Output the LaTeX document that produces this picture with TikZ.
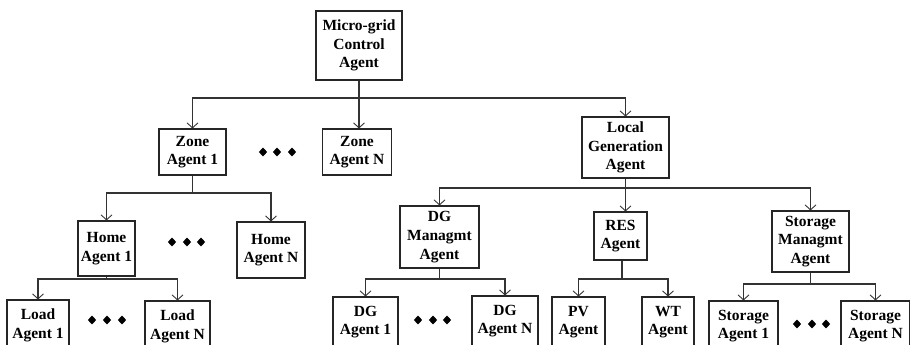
\documentclass[tikz,border=0pt]{standalone}
\usepackage{fontspec}
\setmainfont{Liberation Serif}
\usetikzlibrary{arrows.meta,shapes.geometric}
\tikzset{
  agent/.style={draw=black!85, line width=1.1pt, rectangle, inner sep=0pt, align=center,
    font=\fontsize{15.5}{18.7}\selectfont\bfseries},
  conn/.style={draw=black!80, line width=1.1pt},
  arr/.style={conn, -{Straight Barb[length=5pt,width=11pt,line width=0.9pt]}},
  dot/.style={diamond, fill=black, inner sep=0pt, minimum width=8.5pt, minimum height=9pt}
}
\begin{document}
\begin{tikzpicture}[x=1pt,y=-1pt]
\useasboundingbox (0,0) rectangle (910,345);
\clip (0,0) rectangle (910,345);
\fill[white] (0,0) rectangle (910,345);
% level 0
\node[agent, minimum width=86pt, minimum height=69pt] (top) at (359,45.5) {Micro-grid\\Control\\Agent};
% level 1
\node[agent, minimum width=67pt, minimum height=46pt] (zone1) at (192.5,152) {Zone\\Agent 1};
\node[agent, minimum width=69pt, minimum height=46pt] (zoneN) at (357,152) {Zone\\Agent N};
\node[agent, minimum width=87pt, minimum height=61pt] (lg) at (625.5,147.5) {Local\\Generation\\Agent};
% level 2
\node[agent, minimum width=57pt, minimum height=55pt] (home1) at (106.5,248.5) {Home\\Agent 1};
\node[agent, minimum width=68pt, minimum height=56pt] (homeN) at (271,250) {Home\\Agent N};
\node[agent, minimum width=79pt, minimum height=62pt] (dgm) at (439.5,237) {DG\\Managmt\\Agent};
\node[agent, minimum width=53pt, minimum height=48pt] (res) at (620.5,236) {RES\\Agent};
\node[agent, minimum width=77pt, minimum height=61pt] (sm) at (810.5,241.5) {Storage\\Managmt\\Agent};
% level 3
\node[agent, minimum width=62pt, minimum height=50pt] (load1) at (38,325) {Load\\Agent 1};
\node[agent, minimum width=65pt, minimum height=50pt] (loadN) at (177.5,326) {Load\\Agent N};
\node[agent, minimum width=65pt, minimum height=50pt] (dg1) at (365.5,322) {DG\\Agent 1};
\node[agent, minimum width=66pt, minimum height=50pt] (dgN) at (505,321) {DG\\Agent N};
\node[agent, minimum width=53pt, minimum height=50pt] (pv) at (578.5,322) {PV\\Agent};
\node[agent, minimum width=52pt, minimum height=50pt] (wt) at (668,322) {WT\\Agent};
\node[agent, minimum width=69pt, minimum height=50pt] (st1) at (743.5,326) {Storage\\Agent 1};
\node[agent, minimum width=69pt, minimum height=50pt] (stN) at (875.5,326) {Storage\\Agent N};
% dots
\foreach \i/\x/\y in {a1/263/152, a2/277/152, a3/292/152,
                     b1/172/242, b2/187/242, b3/201/242,
                     c1/92/320, c2/107/320, c3/122/320,
                     d1/418/320, d2/433/320, d3/447/320,
                     e1/797/324, e2/812/324, e3/826/324}
  \node[dot] (dot\i) at (\x,\y) {};
% connectors
\coordinate (b0) at (359,98);
\draw[arr] (top.south) -- (b0) -| (zone1.north);
\draw[arr] (b0) -- (zoneN.north -| b0);
\draw[arr] (b0) -| (lg.north);
\coordinate (b1) at (625.5,188);
\draw[arr] (lg.south) -- (b1) -| (dgm.north);
\draw[arr] (b1) -- (res.north -| b1);
\draw[arr] (b1) -| (sm.north);
\coordinate (b2) at (192.5,193);
\draw[arr] (zone1.south) -- (b2) -| (home1.north);
\draw[arr] (b2) -| (homeN.north);
\coordinate (b3) at (106.5,279);
\draw[arr] (home1.south) -- (b3) -| (load1.north);
\draw[arr] (b3) -| (loadN.north);
\coordinate (b4) at (439.5,279);
\draw[arr] (dgm.south) -- (b4) -| (dg1.north);
\draw[arr] (b4) -| (dgN.north);
\coordinate (b5) at (622,279);
\draw[conn] (res.south -| b5) -- (b5);
\draw[arr] (b5) -| (pv.north);
\draw[arr] (b5) -| (wt.north);
\coordinate (b6) at (810.5,284);
\draw[arr] (sm.south) -- (b6) -| (st1.north);
\draw[arr] (b6) -| (stN.north);
\end{tikzpicture}
\end{document}
